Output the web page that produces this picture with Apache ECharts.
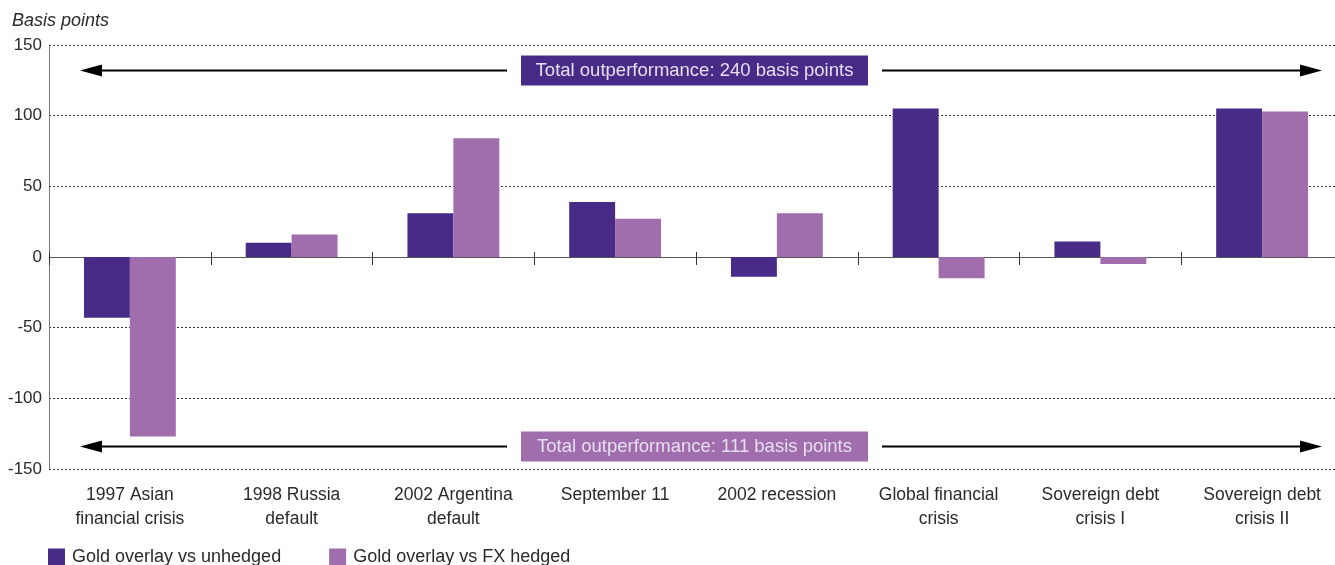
<!DOCTYPE html>
<html>
<head>
<meta charset="utf-8">
<script src="https://cdn.jsdelivr.net/npm/echarts@6/dist/echarts.min.js"></script>
<style>
  html, body { margin: 0; padding: 0; background: #fff; overflow: hidden; }
  #chart { width: 1343px; height: 565px; }
</style>
</head>
<body>
<div id="chart"></div>
<script>
// data
const categories = [
  '1997 Asian\nfinancial crisis', '1998 Russia\ndefault', '2002 Argentina\ndefault',
  'September 11', '2002 recession', 'Global financial\ncrisis',
  'Sovereign debt\ncrisis I', 'Sovereign debt\ncrisis II'
];
const unhedged = [-43, 10, 31, 39, -14, 105, 11, 105];
const fxHedged = [-127, 16, 84, 27, 31, -15, -5, 103];
const seriesNames = ['Gold overlay vs unhedged', 'Gold overlay vs FX hedged'];
const arrowLevels = [132, -134];
const arrowTexts = ['Total outperformance: 240 basis points', 'Total outperformance: 111 basis points'];

const dark = '#482a87';
const light = '#a06dad';
const font = 'Liberation Sans';
const txt = '#2a2a2a';

const chart = echarts.init(document.getElementById('chart'));

const gridBox = { left: 49, right: 0, top: 45, bottom: 96, containLabel: false };

const option = {
  animation: false,
  textStyle: { fontFamily: font },
  grid: [gridBox, Object.assign({}, gridBox)],
  legend: {
    left: 43, top: 543,
    itemWidth: 17, itemHeight: 17, itemGap: 48,
    icon: 'rect',
    textStyle: { fontFamily: font, fontSize: 18, color: txt, padding: [0, 0, 0, 2] },
    data: seriesNames
  },
  xAxis: [
    {
      type: 'category', data: categories, position: 'bottom', gridIndex: 0,
      axisLine: { show: false, onZero: false },
      axisTick: { show: false },
      axisLabel: { fontFamily: font, fontSize: 17.5, color: txt, lineHeight: 24, margin: 14, interval: 0 }
    },
    {
      type: 'category', data: categories, position: 'top', gridIndex: 0,
      axisLine: { show: true, onZero: true, lineStyle: { color: '#555', width: 1 } },
      axisTick: { show: true, length: 8, inside: true, lineStyle: { color: '#333' } },
      axisLabel: { show: false }
    },
    {
      // second copy for the upward half of the zero-line ticks
      type: 'category', data: categories, position: 'bottom', gridIndex: 1,
      axisLine: { show: false, onZero: true },
      axisTick: { show: true, length: 5, inside: true, lineStyle: { color: '#333' } },
      axisLabel: { show: false }
    }
  ],
  yAxis: [
    {
      type: 'value', min: -150, max: 150, interval: 50, gridIndex: 0,
      name: 'Basis points',
      nameLocation: 'end',
      nameGap: 15,
      nameTextStyle: { fontFamily: font, fontSize: 18, fontStyle: 'italic', color: txt, align: 'left', padding: [0, 0, 0, -37] },
      axisLine: { show: true, lineStyle: { color: '#777' } },
      axisTick: { show: false },
      axisLabel: { fontFamily: font, fontSize: 17, color: txt, margin: 7 },
      splitLine: { show: true, lineStyle: { type: [2, 2], color: '#333', width: 1 } }
    },
    {
      type: 'value', min: -150, max: 150, interval: 50, gridIndex: 1,
      axisLine: { show: false }, axisTick: { show: false },
      axisLabel: { show: false }, splitLine: { show: false }
    }
  ],
  series: [
    {
      name: seriesNames[0], type: 'bar', data: unhedged, xAxisIndex: 0, yAxisIndex: 0,
      barWidth: '28.4%', barGap: '0%',
      itemStyle: { color: dark }
    },
    {
      name: seriesNames[1], type: 'bar', data: fxHedged, xAxisIndex: 0, yAxisIndex: 0,
      barWidth: '28.4%', barGap: '0%',
      itemStyle: { color: light }
    }
  ]
};

chart.setOption(option);

// arrows with labels, placed on the value scale
const boxColors = [dark, light];
const graphics = [];
arrowLevels.forEach((lvl, i) => {
  const y = Math.round(chart.convertToPixel({ yAxisIndex: 0 }, lvl)) + 0.5;
  const x0 = 80, x1 = 1322, bx0 = 521, bx1 = 868, head = 22, hh = 6;
  graphics.push(
    { type: 'line', shape: { x1: x0 + head - 2, y1: y, x2: 507, y2: y }, style: { stroke: '#000', lineWidth: 2 } },
    { type: 'line', shape: { x1: 882, y1: y, x2: x1 - head + 2, y2: y }, style: { stroke: '#000', lineWidth: 2 } },
    { type: 'polygon', shape: { points: [[x0, y], [x0 + head, y - hh], [x0 + head, y + hh]] }, style: { fill: '#000' } },
    { type: 'polygon', shape: { points: [[x1, y], [x1 - head, y - hh], [x1 - head, y + hh]] }, style: { fill: '#000' } },
    { type: 'rect', shape: { x: bx0, y: y - 15, width: bx1 - bx0, height: 30 }, style: { fill: boxColors[i] } },
    {
      type: 'text', x: (bx0 + bx1) / 2, y: y + 0.5,
      style: { text: arrowTexts[i], fill: '#e6dff0', font: '18.5px ' + font, align: 'center', verticalAlign: 'middle' }
    }
  );
});
chart.setOption({ graphic: graphics });
</script>
</body>
</html>
